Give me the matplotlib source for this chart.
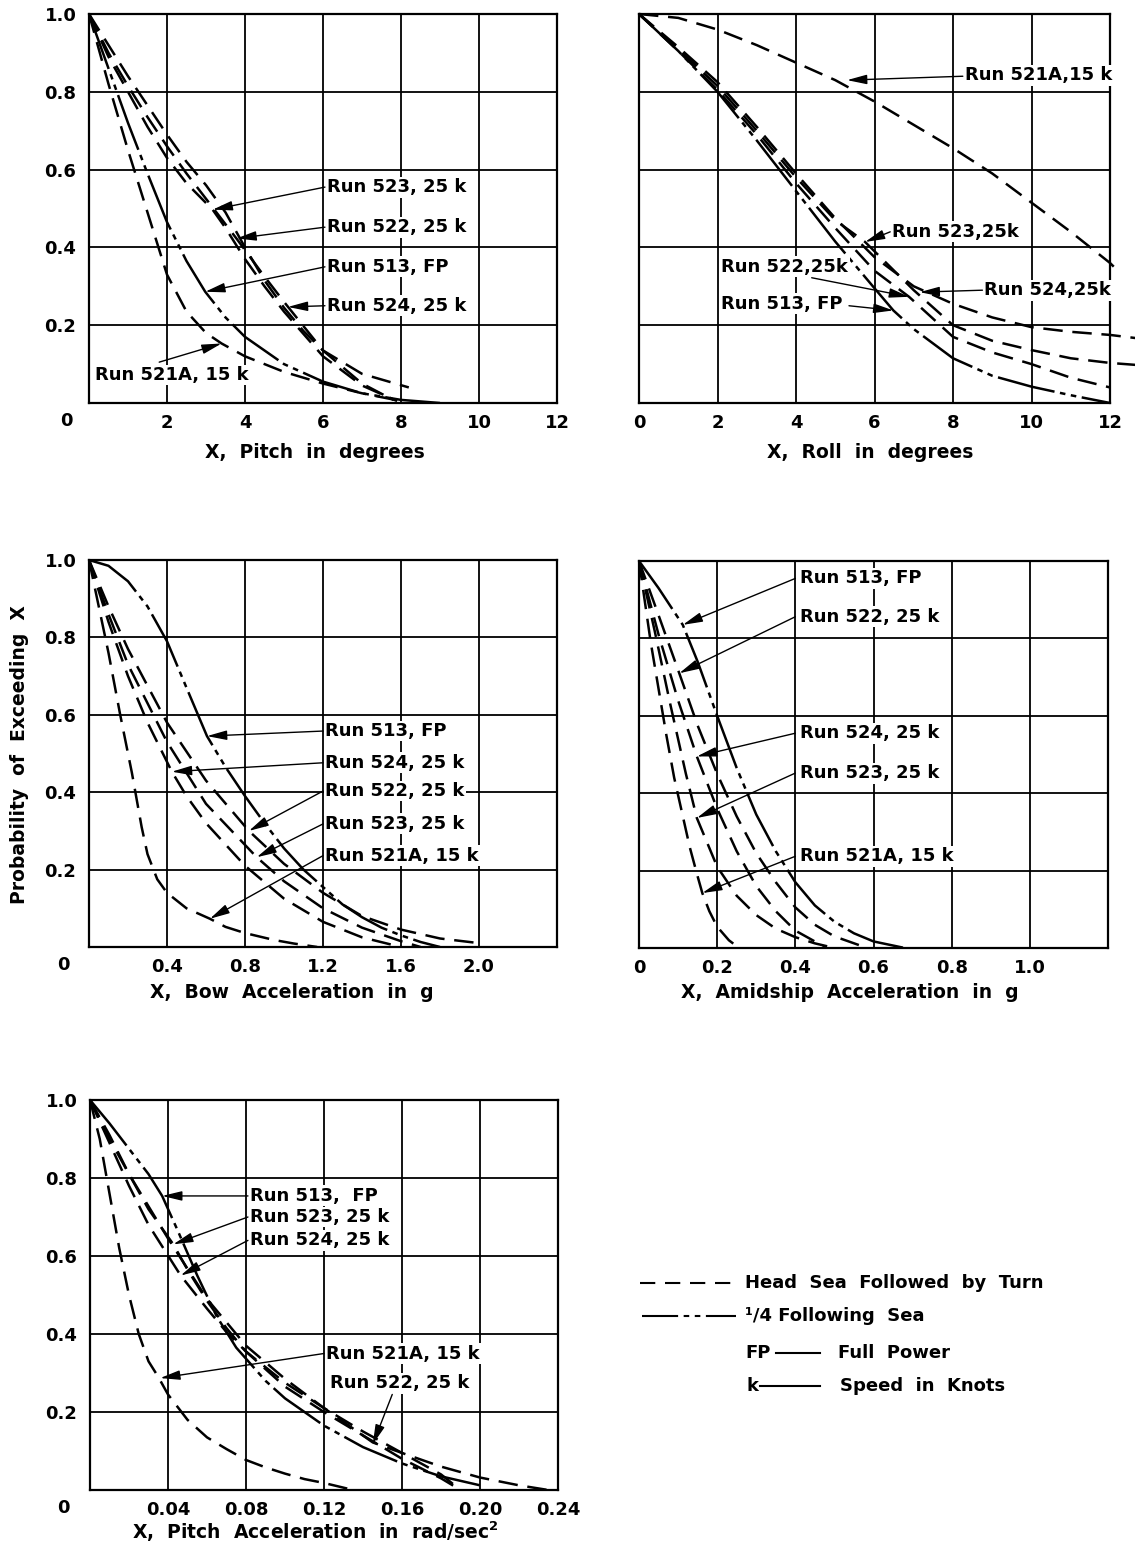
import matplotlib
matplotlib.use("Agg")
import matplotlib.pyplot as plt
from matplotlib.lines import Line2D

plt.rcParams.update({
    "font.family": ["DejaVu Sans"],
    "font.size": 13,
    "font.weight": "bold",
    "lines.scale_dashes": False,
})

# ============================================================================
# DATA
# ============================================================================

# Pitch in degrees
pitch_524_x = [0, 0.5, 1, 1.5, 2, 2.5, 3, 3.5, 4, 4.5, 5, 5.5, 6, 7, 8.2]
pitch_524_y = [1, 0.92, 0.84, 0.765, 0.69, 0.62, 0.56, 0.49, 0.40, 0.315, 0.245, 0.185, 0.135, 0.075, 0.04]
pitch_523_x = [0, 0.5, 1, 1.5, 2, 2.5, 3.17, 3.5, 4, 4.5, 5, 6, 7, 7.9]
pitch_523_y = [1, 0.89, 0.80, 0.71, 0.63, 0.565, 0.497, 0.45, 0.37, 0.30, 0.235, 0.12, 0.045, 0.005]
pitch_522_x = [0, 0.5, 1, 1.5, 2, 2.5, 3, 3.78, 4.5, 5, 6, 7, 7.8]
pitch_522_y = [1, 0.90, 0.815, 0.735, 0.66, 0.59, 0.525, 0.423, 0.325, 0.26, 0.135, 0.05, 0.008]
pitch_513_x = [0, 0.5, 1, 1.5, 2, 2.5, 2.98, 3.5, 4, 5, 6, 7, 8, 9]
pitch_513_y = [1, 0.86, 0.72, 0.59, 0.465, 0.365, 0.286, 0.22, 0.17, 0.10, 0.055, 0.025, 0.008, 0]
pitch_521a_x = [0, 0.5, 1, 1.5, 2, 2.5, 3, 3.4, 4, 5, 6, 7, 8]
pitch_521a_y = [1, 0.82, 0.65, 0.49, 0.33, 0.235, 0.18, 0.153, 0.12, 0.08, 0.05, 0.025, 0.005]

# Roll in degrees
roll_521a_x = [0, 1, 2, 3, 4, 5, 6, 7, 8, 9, 10, 11, 12, 12.1]
roll_521a_y = [1, 0.99, 0.96, 0.92, 0.875, 0.83, 0.775, 0.715, 0.655, 0.59, 0.515, 0.44, 0.36, 0.35]
roll_513_x = [0, 1, 2, 3, 4, 5, 6, 6.48, 7, 8, 9, 10, 11, 12]
roll_513_y = [1, 0.905, 0.80, 0.675, 0.545, 0.415, 0.295, 0.238, 0.19, 0.115, 0.07, 0.042, 0.02, 0]
roll_524_x = [0, 1, 2, 3, 4, 5, 6, 7, 8, 9, 10, 11, 12, 12.65]
roll_524_y = [1, 0.915, 0.825, 0.71, 0.59, 0.475, 0.375, 0.30, 0.255, 0.22, 0.195, 0.183, 0.175, 0.167]
roll_523_x = [0, 1, 2, 3, 4, 5, 5.76, 6, 7, 8, 9, 10, 11, 12, 12.65]
roll_523_y = [1, 0.91, 0.815, 0.70, 0.58, 0.47, 0.414, 0.39, 0.29, 0.20, 0.16, 0.136, 0.115, 0.103, 0.098]
roll_522_x = [0, 1, 2, 3, 4, 5, 6, 6.88, 8, 9, 10, 11, 12]
roll_522_y = [1, 0.905, 0.805, 0.69, 0.565, 0.45, 0.34, 0.273, 0.17, 0.13, 0.10, 0.065, 0.04]

# Bow acceleration in g
bow_513_x = [0, 0.1, 0.2, 0.3, 0.4, 0.5, 0.605, 0.7, 0.8, 0.9, 1.0, 1.1, 1.2, 1.3, 1.4, 1.5, 1.6, 1.7, 1.8]
bow_513_y = [1, 0.985, 0.945, 0.88, 0.79, 0.67, 0.545, 0.465, 0.39, 0.32, 0.255, 0.20, 0.155, 0.11, 0.077, 0.05, 0.03, 0.013, 0]
bow_524_x = [0, 0.1, 0.2, 0.3, 0.425, 0.5, 0.6, 0.8, 1.0, 1.2, 1.4, 1.6]
bow_524_y = [1, 0.84, 0.70, 0.58, 0.453, 0.39, 0.32, 0.21, 0.125, 0.065, 0.025, 0.0]
bow_522_x = [0, 0.1, 0.2, 0.4, 0.6, 0.82, 1.0, 1.2, 1.4, 1.6, 1.8, 2.0]
bow_522_y = [1, 0.88, 0.77, 0.58, 0.43, 0.30, 0.215, 0.14, 0.08, 0.045, 0.022, 0.01]
bow_523_x = [0, 0.1, 0.2, 0.4, 0.6, 0.86, 1.0, 1.2, 1.4, 1.6, 1.7]
bow_523_y = [1, 0.86, 0.73, 0.53, 0.37, 0.232, 0.17, 0.10, 0.05, 0.015, 0.0]
bow_521a_x = [0, 0.05, 0.1, 0.16, 0.22, 0.27, 0.3, 0.35, 0.4, 0.5, 0.62, 0.7, 0.8, 0.95, 1.05, 1.17]
bow_521a_y = [1, 0.88, 0.76, 0.60, 0.45, 0.31, 0.24, 0.175, 0.14, 0.10, 0.073, 0.052, 0.036, 0.018, 0.009, 0]

# Amidship acceleration in g
amid_513_x = [0, 0.05, 0.112, 0.15, 0.2, 0.25, 0.3, 0.35, 0.4, 0.45, 0.5, 0.55, 0.6, 0.68]
amid_513_y = [1, 0.93, 0.835, 0.74, 0.60, 0.465, 0.345, 0.25, 0.17, 0.11, 0.068, 0.038, 0.017, 0]
amid_522_x = [0, 0.05, 0.103, 0.15, 0.2, 0.25, 0.3, 0.35, 0.4, 0.45, 0.5, 0.57]
amid_522_y = [1, 0.86, 0.71, 0.575, 0.45, 0.34, 0.245, 0.17, 0.105, 0.06, 0.03, 0.005]
amid_524_x = [0, 0.05, 0.1, 0.148, 0.2, 0.25, 0.3, 0.35, 0.4, 0.48]
amid_524_y = [1, 0.81, 0.64, 0.495, 0.36, 0.25, 0.16, 0.095, 0.045, 0.0]
amid_523_x = [0, 0.04, 0.08, 0.12, 0.148, 0.2, 0.25, 0.3, 0.35, 0.4, 0.45, 0.5]
amid_523_y = [1, 0.82, 0.63, 0.45, 0.336, 0.21, 0.135, 0.085, 0.05, 0.028, 0.012, 0.0]
amid_521a_x = [0, 0.01, 0.02, 0.03, 0.05, 0.07, 0.09, 0.11, 0.13, 0.15, 0.162, 0.18, 0.2, 0.23, 0.256]
amid_521a_y = [1, 0.93, 0.86, 0.79, 0.67, 0.55, 0.44, 0.35, 0.26, 0.185, 0.142, 0.095, 0.055, 0.02, 0]

# Pitch acceleration in rad/sec^2
pacc_513_x = [0, 0.01, 0.02, 0.03, 0.037, 0.045, 0.055, 0.065, 0.075, 0.09, 0.1, 0.12, 0.14, 0.16, 0.18, 0.2]
pacc_513_y = [1, 0.94, 0.875, 0.81, 0.754, 0.665, 0.55, 0.445, 0.365, 0.28, 0.235, 0.165, 0.11, 0.068, 0.035, 0.012]
pacc_523_x = [0, 0.01, 0.02, 0.03, 0.0427, 0.05, 0.06, 0.07, 0.08, 0.1, 0.12, 0.14, 0.16, 0.18, 0.19]
pacc_523_y = [1, 0.91, 0.81, 0.72, 0.63, 0.565, 0.485, 0.415, 0.355, 0.265, 0.20, 0.14, 0.08, 0.03, 0.0]
pacc_524_x = [0, 0.01, 0.02, 0.03, 0.0465, 0.06, 0.07, 0.08, 0.1, 0.12, 0.14, 0.16, 0.18, 0.19]
pacc_524_y = [1, 0.89, 0.78, 0.68, 0.55, 0.465, 0.405, 0.355, 0.275, 0.21, 0.15, 0.095, 0.04, 0.0]
pacc_522_x = [0, 0.01, 0.02, 0.04, 0.06, 0.08, 0.1, 0.12, 0.145, 0.16, 0.18, 0.2, 0.22, 0.235]
pacc_522_y = [1, 0.90, 0.81, 0.645, 0.49, 0.37, 0.285, 0.21, 0.122, 0.095, 0.06, 0.032, 0.012, 0]
pacc_521a_x = [0, 0.005, 0.01, 0.015, 0.02, 0.025, 0.03, 0.035, 0.04, 0.05, 0.06, 0.07, 0.08, 0.09, 0.1, 0.11, 0.12, 0.135]
pacc_521a_y = [1, 0.90, 0.76, 0.62, 0.50, 0.40, 0.33, 0.29, 0.245, 0.18, 0.135, 0.105, 0.077, 0.058, 0.042, 0.028, 0.018, 0]

prob_ticks = [0, 0.2, 0.4, 0.6, 0.8, 1.0]
prob_labels = ["", "0.2", "0.4", "0.6", "0.8", "1.0"]

# ============================================================================
# FIGURE
# ============================================================================

W, H = 1135, 1548
fig = plt.figure(figsize=(W / 100, H / 100), dpi=100)
fig.patch.set_facecolor("white")

HEAD = (0, (14, 7))                  # head sea followed by turn
FOLLOW = (0, (42, 4, 4, 4, 4, 4))    # 1/4 following sea
FS = 13          # lettering
FS_AX = 13.5     # axis captions


def px_ax(left, top, right, bottom):
    return fig.add_axes([left / W, 1 - bottom / H, (right - left) / W, (bottom - top) / H])


def ftext(x, y, s, **kw):
    fig.text(x / W, 1 - y / H, s, **kw)


def setup(ax, xmax, xticks, xlabels, ylabels):
    ax.set_xlim(0, xmax)
    ax.set_ylim(0, 1)
    ax.set_xticks(xticks)
    ax.set_xticklabels(xlabels)
    ax.set_yticks(prob_ticks)
    ax.set_yticklabels(ylabels if ylabels else [""] * len(prob_ticks))
    ax.grid(True, color="black", lw=1.3)
    ax.set_axisbelow(True)
    ax.tick_params(length=0, labelsize=FS)
    ax.tick_params(axis="x", pad=8)
    ax.tick_params(axis="y", pad=9)
    for sp in ax.spines.values():
        sp.set_linewidth(1.6)


def curve(ax, x, y, style, clip=True):
    ax.plot(x, y, color="black", lw=1.8, linestyle=style, clip_on=clip, zorder=3,
            solid_capstyle="butt", dash_capstyle="butt")


def note(ax, text, tx, ty, sx, sy, tip_x, tip_y):
    ax.text(tx, ty, text, ha="left", va="center", fontsize=FS, zorder=5,
            bbox=dict(fc="white", ec="none", pad=1.0))
    ax.annotate("", xy=(tip_x, tip_y), xytext=(sx, sy), zorder=6,
                arrowprops=dict(arrowstyle="-|>,head_length=0.75,head_width=0.18",
                                color="black", lw=1.0, mutation_scale=16,
                                shrinkA=0, shrinkB=0))


# --- Pitch -------------------------------------------------------------------
ax1 = px_ax(89, 14, 557, 403)
setup(ax1, 12, [0, 2, 4, 6, 8, 10, 12], ["", "2", "4", "6", "8", "10", "12"], prob_labels)
curve(ax1, pitch_524_x, pitch_524_y, HEAD)
curve(ax1, pitch_523_x, pitch_523_y, HEAD)
curve(ax1, pitch_522_x, pitch_522_y, HEAD)
curve(ax1, pitch_513_x, pitch_513_y, FOLLOW)
curve(ax1, pitch_521a_x, pitch_521a_y, HEAD)
note(ax1, "Run 523, 25 k", 6.1, 0.555, 6.05, 0.555, 3.17, 0.497)
note(ax1, "Run 522, 25 k", 6.1, 0.452, 6.05, 0.452, 3.78, 0.423)
note(ax1, "Run 513, FP", 6.1, 0.35, 6.05, 0.35, 2.98, 0.286)
note(ax1, "Run 524, 25 k", 6.1, 0.25, 6.05, 0.25, 5.1, 0.247)
note(ax1, "Run 521A, 15 k", 0.15, 0.072, 1.8, 0.105, 3.4, 0.153)
ftext(66, 421, "0", ha="center", va="center", fontsize=FS)
ftext(315, 452, "X,  Pitch  in  degrees", ha="center", va="center", fontsize=FS_AX)

# --- Roll --------------------------------------------------------------------
ax2 = px_ax(639, 14, 1110, 403)
setup(ax2, 12, [0, 2, 4, 6, 8, 10, 12], ["0", "2", "4", "6", "8", "10", "12"], None)
curve(ax2, roll_521a_x, roll_521a_y, HEAD, clip=False)
curve(ax2, roll_513_x, roll_513_y, FOLLOW)
curve(ax2, roll_524_x, roll_524_y, HEAD, clip=False)
curve(ax2, roll_523_x, roll_523_y, HEAD, clip=False)
curve(ax2, roll_522_x, roll_522_y, HEAD)
note(ax2, "Run 521A,15 k", 8.3, 0.843, 8.25, 0.84, 5.3, 0.83)
note(ax2, "Run 523,25k", 6.45, 0.44, 6.4, 0.44, 5.76, 0.414)
note(ax2, "Run 522,25k", 2.1, 0.35, 4.4, 0.322, 6.88, 0.273)
note(ax2, "Run 513, FP", 2.1, 0.255, 5.35, 0.25, 6.48, 0.238)
note(ax2, "Run 524,25k", 8.8, 0.29, 8.75, 0.29, 7.15, 0.285)
ftext(870, 452, "X,  Roll  in  degrees", ha="center", va="center", fontsize=FS_AX)

# --- Bow acceleration -------------------------------------------------------
ax3 = px_ax(89, 560, 557, 947)
setup(ax3, 2.4, [0, 0.4, 0.8, 1.2, 1.6, 2.0, 2.4], ["", "0.4", "0.8", "1.2", "1.6", "2.0", ""], prob_labels)
curve(ax3, bow_513_x, bow_513_y, FOLLOW)
curve(ax3, bow_524_x, bow_524_y, HEAD)
curve(ax3, bow_522_x, bow_522_y, HEAD)
curve(ax3, bow_523_x, bow_523_y, HEAD)
curve(ax3, bow_521a_x, bow_521a_y, HEAD)
note(ax3, "Run 513, FP", 1.21, 0.558, 1.2, 0.558, 0.605, 0.545)
note(ax3, "Run 524, 25 k", 1.21, 0.476, 1.2, 0.476, 0.425, 0.453)
note(ax3, "Run 522, 25 k", 1.21, 0.403, 1.2, 0.403, 0.82, 0.30)
note(ax3, "Run 523, 25 k", 1.21, 0.318, 1.2, 0.318, 0.86, 0.232)
note(ax3, "Run 521A, 15 k", 1.21, 0.236, 1.2, 0.236, 0.62, 0.073)
ftext(63, 965, "0", ha="center", va="center", fontsize=FS)
ftext(292, 993, "X,  Bow  Acceleration  in  g", ha="center", va="center", fontsize=FS_AX)

# --- Amidship acceleration --------------------------------------------------
ax4 = px_ax(639, 561, 1108, 948)
setup(ax4, 1.2, [0, 0.2, 0.4, 0.6, 0.8, 1.0, 1.2], ["0", "0.2", "0.4", "0.6", "0.8", "1.0", ""], None)
curve(ax4, amid_513_x, amid_513_y, FOLLOW)
curve(ax4, amid_522_x, amid_522_y, HEAD)
curve(ax4, amid_524_x, amid_524_y, HEAD)
curve(ax4, amid_523_x, amid_523_y, HEAD)
curve(ax4, amid_521a_x, amid_521a_y, HEAD)
note(ax4, "Run 513, FP", 0.413, 0.955, 0.40, 0.955, 0.112, 0.835)
note(ax4, "Run 522, 25 k", 0.413, 0.856, 0.40, 0.856, 0.103, 0.71)
note(ax4, "Run 524, 25 k", 0.413, 0.555, 0.40, 0.555, 0.148, 0.495)
note(ax4, "Run 523, 25 k", 0.413, 0.452, 0.40, 0.452, 0.148, 0.336)
note(ax4, "Run 521A, 15 k", 0.413, 0.237, 0.40, 0.237, 0.162, 0.142)
ftext(850, 993, "X,  Amidship  Acceleration  in  g", ha="center", va="center", fontsize=FS_AX)

# --- Pitch acceleration -----------------------------------------------------
ax5 = px_ax(90, 1100, 558, 1490)
setup(ax5, 0.24, [0, 0.04, 0.08, 0.12, 0.16, 0.20, 0.24],
      ["", "0.04", "0.08", "0.12", "0.16", "0.20", "0.24"], prob_labels)
curve(ax5, pacc_513_x, pacc_513_y, FOLLOW)
curve(ax5, pacc_523_x, pacc_523_y, HEAD)
curve(ax5, pacc_524_x, pacc_524_y, HEAD)
curve(ax5, pacc_522_x, pacc_522_y, HEAD)
curve(ax5, pacc_521a_x, pacc_521a_y, HEAD)
note(ax5, "Run 513,  FP", 0.0818, 0.754, 0.081, 0.754, 0.037, 0.754)
note(ax5, "Run 523, 25 k", 0.0818, 0.700, 0.081, 0.700, 0.0427, 0.63)
note(ax5, "Run 524, 25 k", 0.0818, 0.640, 0.081, 0.640, 0.0465, 0.55)
note(ax5, "Run 521A, 15 k", 0.121, 0.35, 0.12, 0.35, 0.036, 0.287)
note(ax5, "Run 522, 25 k", 0.123, 0.274, 0.155, 0.245, 0.145, 0.117)
ftext(63, 1508, "0", ha="center", va="center", fontsize=FS)
ftext(315, 1532, "X,  Pitch  Acceleration  in  rad/sec$^{\\mathbf{2}}$", ha="center", va="center",
      fontsize=FS_AX)

# --- Shared y label ---------------------------------------------------------
ftext(20, 755, "Probability  of  Exceeding  X", rotation=90, ha="center", va="center", fontsize=FS_AX)

# --- Key ---------------------------------------------------------------------
def key_line(x0, x1, y, style):
    fig.add_artist(Line2D([x0 / W, x1 / W], [1 - y / H, 1 - y / H], transform=fig.transFigure,
                          color="black", lw=1.5, linestyle=style))


key_line(640, 736, 1283, (0, (11, 7)))
ftext(745, 1283, "Head  Sea  Followed  by  Turn", ha="left", va="center", fontsize=FS)
key_line(642, 736, 1316, (0, (26, 4, 4, 4, 4, 4)))
ftext(745, 1316, "\u00b9/4 Following  Sea", ha="left", va="center", fontsize=FS)
ftext(745, 1353, "FP", ha="left", va="center", fontsize=FS)
key_line(776, 820, 1353, "-")
ftext(838, 1353, "Full  Power", ha="left", va="center", fontsize=FS)
ftext(746, 1386, "k", ha="left", va="center", fontsize=FS)
key_line(760, 820, 1386, "-")
ftext(840, 1386, "Speed  in  Knots", ha="left", va="center", fontsize=FS)

fig.savefig("out.png", dpi=100, facecolor="white")
